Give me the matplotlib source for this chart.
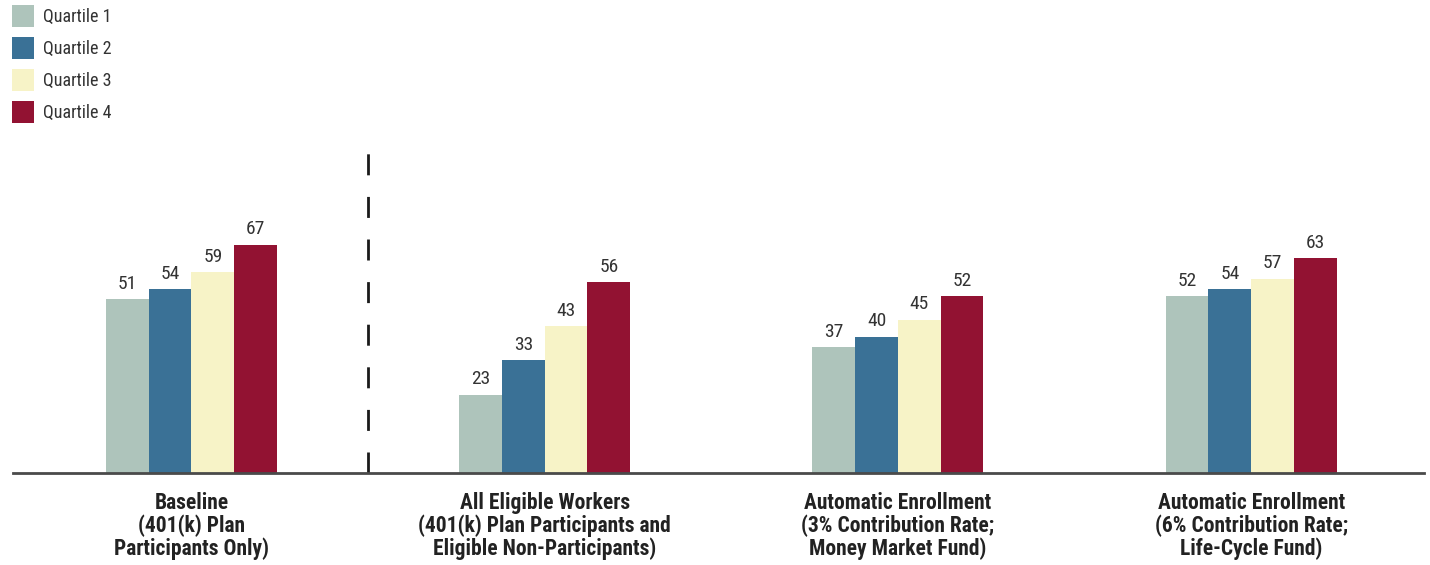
import matplotlib
matplotlib.use("Agg")
import matplotlib.pyplot as plt
from matplotlib import font_manager
from matplotlib.patches import Patch
import numpy as np

categories = [
    "Baseline\n(401(k) Plan\nParticipants Only)",
    "All Eligible Workers\n(401(k) Plan Participants and\nEligible Non-Participants)",
    "Automatic Enrollment\n(3% Contribution Rate;\nMoney Market Fund)",
    "Automatic Enrollment\n(6% Contribution Rate;\nLife-Cycle Fund)",
]
series_names = ["Quartile 1", "Quartile 2", "Quartile 3", "Quartile 4"]
q1 = [51, 23, 37, 52]
q2 = [54, 33, 40, 54]
q3 = [59, 43, 45, 57]
q4 = [67, 56, 52, 63]
series = [q1, q2, q3, q4]
colors = ["#aec4bb", "#3a7196", "#f7f3c7", "#921232"]

avail = {f.name for f in font_manager.fontManager.ttflist}
fam = None
for cand in ["Roboto Condensed", "Liberation Sans Narrow", "Open Sans Condensed", "DejaVu Sans Condensed", "Roboto", "DejaVu Sans"]:
    if cand in avail:
        fam = cand
        break
plt.rcParams['font.family'] = [fam, 'DejaVu Sans']

W, H = 1430, 565
fig = plt.figure(figsize=(W / 100, H / 100), dpi=100)
left_px, right_px, bottom_px, top_px = 13, 1424, 473, 132
ax = fig.add_axes([left_px / W, (H - bottom_px) / H, (right_px - left_px) / W, (bottom_px - top_px) / H])

text_color = "#333333"
x = np.arange(len(categories))
bw = 0.121
for i, (vals, c, name) in enumerate(zip(series, colors, series_names)):
    pos = x + (i - 1.5) * bw
    ax.bar(pos, vals, width=bw, color=c, label=name, zorder=2)
    for p, v in zip(pos, vals):
        ax.text(p, v + 1.8, str(v), ha="center", va="bottom", fontsize=14,
                color=text_color)

ax.set_xlim(-0.505, 3.489)
ax.set_ylim(0, 100)
for s in ["top", "right", "left"]:
    ax.spines[s].set_visible(False)
ax.spines["bottom"].set_color("#4a4a4a")
ax.spines["bottom"].set_linewidth(2)
ax.spines["bottom"].set_zorder(3)
ax.set_yticks([])
ax.set_xticks(x)
ax.set_xticklabels(categories, fontsize=15.5, fontweight="bold", color="#222222",
                   linespacing=1.04)
ax.tick_params(axis="x", length=0, pad=13.5)

# dashed separator
lw = 2.0
ax.plot([0.5, 0.5], [0, 94], color="#1a1a1a", lw=lw,
        linestyle=(0, (21 / 1.389 / lw, 21.6 / 1.389 / lw)), zorder=1)

handles = [Patch(facecolor=c, edgecolor="none") for c in colors]
leg = fig.legend(handles, series_names, loc="upper left",
                 bbox_to_anchor=(12 / W, 1 - 5 / H), frameon=False,
                 fontsize=13, handlelength=1.22, handleheight=1.5,
                 labelspacing=0.55, handletextpad=0.5, borderaxespad=0,
                 borderpad=0)
for t in leg.get_texts():
    t.set_color(text_color)

fig.savefig("out.png", dpi=100)
